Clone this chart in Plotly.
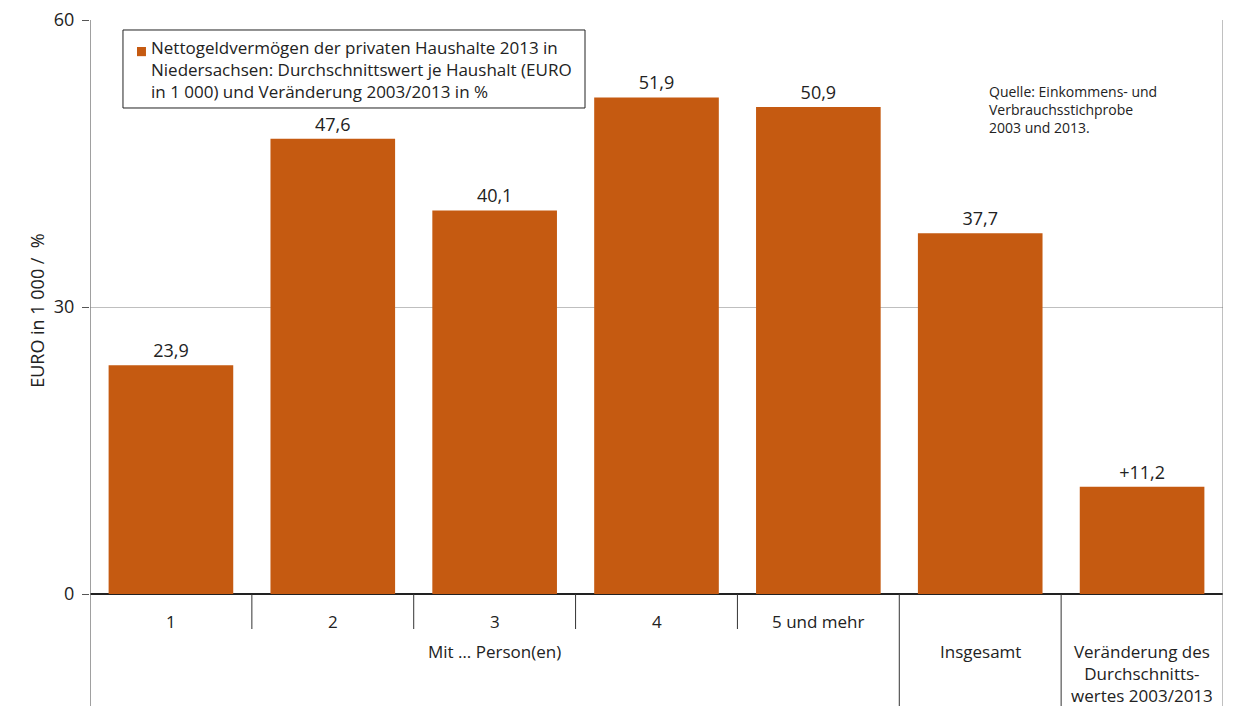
import plotly.graph_objects as go

# Haushaltsgrößen und Werte (EURO in 1 000 bzw. Veränderung in %)
categories = ["1", "2", "3", "4", "5 und mehr", "Insgesamt",
              "Veränderung des<br>Durchschnitts-<br>wertes 2003/2013"]
values = [23.9, 47.6, 40.1, 51.9, 50.9, 37.7, 11.2]
y_ticks = [0, 30, 60]
group_label = "Mit … Person(en)"
y_title = "EURO in 1 000 /  %"
legend_name = ("Nettogeldvermögen der privaten Haushalte 2013 in<br>"
               "Niedersachsen: Durchschnittswert je Haushalt (EURO<br>"
               "in 1 000) und Veränderung 2003/2013 in %")
source_text = "Quelle: Einkommens- und<br>Verbrauchsstichprobe<br>2003 und 2013."

BAR = "#C55A11"
FONT = "Open Sans"
TXT = "#222222"

def fmt(v, signed=False):
    s = f"{v:.1f}".replace(".", ",")
    return ("+" + s) if signed and v > 0 else s

n = len(categories)
xs = list(range(n))
labels = [fmt(v, signed=(i == n - 1)) for i, v in enumerate(values)]

fig = go.Figure()
fig.add_trace(go.Bar(
    x=xs, y=values, name=legend_name,
    marker=dict(color=BAR, line=dict(width=0)),
    text=labels, textposition="outside", cliponaxis=False,
    textfont=dict(family=FONT, size=18, color=TXT),
    showlegend=False,
))

shapes = []
annotations = []
cat_font = dict(family=FONT, size=17, color=TXT)
# category labels below the axis
for i, c in enumerate(categories):
    yy = -0.024 if i < 5 else -0.076
    annotations.append(dict(x=i, y=yy, xref="x", yref="paper", text=c,
                            showarrow=False, yanchor="top", font=cat_font))
annotations.append(dict(x=2, y=-0.076, xref="x", yref="paper", text=group_label,
                        showarrow=False, yanchor="top", font=cat_font))
# source note
annotations.append(dict(x=0.792, y=0.895, xref="paper", yref="paper",
                        text=source_text, showarrow=False, align="left",
                        xanchor="left", yanchor="top",
                        font=dict(family=FONT, size=14, color=TXT)))
# y-axis title
annotations.append(dict(x=-0.0468, y=0.495, xref="paper", yref="paper",
                        text=y_title, textangle=-90, showarrow=False,
                        xanchor="center", yanchor="middle",
                        font=dict(family=FONT, size=18, color=TXT)))
# legend box, swatch and text
shapes.append(dict(type="rect", xref="paper", yref="paper",
                   x0=0.0291, x1=0.4369, y0=0.8467, y1=0.9826,
                   line=dict(color="#222222", width=1), fillcolor="white"))
shapes.append(dict(type="rect", xref="paper", yref="paper",
                   x0=0.0415, x1=0.0494, y0=0.937, y1=0.953,
                   line=dict(width=0), fillcolor=BAR))
annotations.append(dict(x=0.0525, y=0.975, xref="paper", yref="paper",
                        text=legend_name, showarrow=False, align="left",
                        xanchor="left", yanchor="top",
                        font=dict(family=FONT, size=17, color=TXT)))

# separators between categories
for i in range(1, n):
    xb = i - 0.5
    y0 = -0.2 if i in (5, 6) else -0.061
    shapes.append(dict(type="line", xref="x", yref="paper", x0=xb, x1=xb,
                       y0=y0, y1=0, line=dict(color="#333333", width=1)))
# outer frame lines (left axis, right border)
shapes.append(dict(type="line", xref="x", yref="paper", x0=-0.5, x1=-0.5,
                   y0=-0.2, y1=1, line=dict(color="#808080", width=1.5)))
shapes.append(dict(type="line", xref="x", yref="paper", x0=n - 0.5, x1=n - 0.5,
                   y0=-0.2, y1=1, line=dict(color="#808080", width=1)))

fig.update_layout(
    width=1246, height=706,
    margin=dict(l=90, r=23, t=20, b=112),
    paper_bgcolor="white", plot_bgcolor="white",
    bargap=0.23,
    font=dict(family=FONT, size=16, color=TXT),
    showlegend=False,
    xaxis=dict(range=[-0.5, n - 0.5], showticklabels=False, ticks="",
               showgrid=False, zeroline=False, showline=False,
               automargin=False),
    yaxis=dict(range=[0, 60], tickvals=y_ticks, ticks="outside", ticklen=7,
               tickcolor="#555555", ticklabelstandoff=4,
               tickfont=dict(family=FONT, size=18, color=TXT),
               showgrid=True, gridcolor="#bfbfbf", gridwidth=1,
               zeroline=True, zerolinecolor="#222222", zerolinewidth=1.5,
               showline=False, automargin=False),
    shapes=shapes,
    annotations=annotations,
)

fig.write_html("out.html")
